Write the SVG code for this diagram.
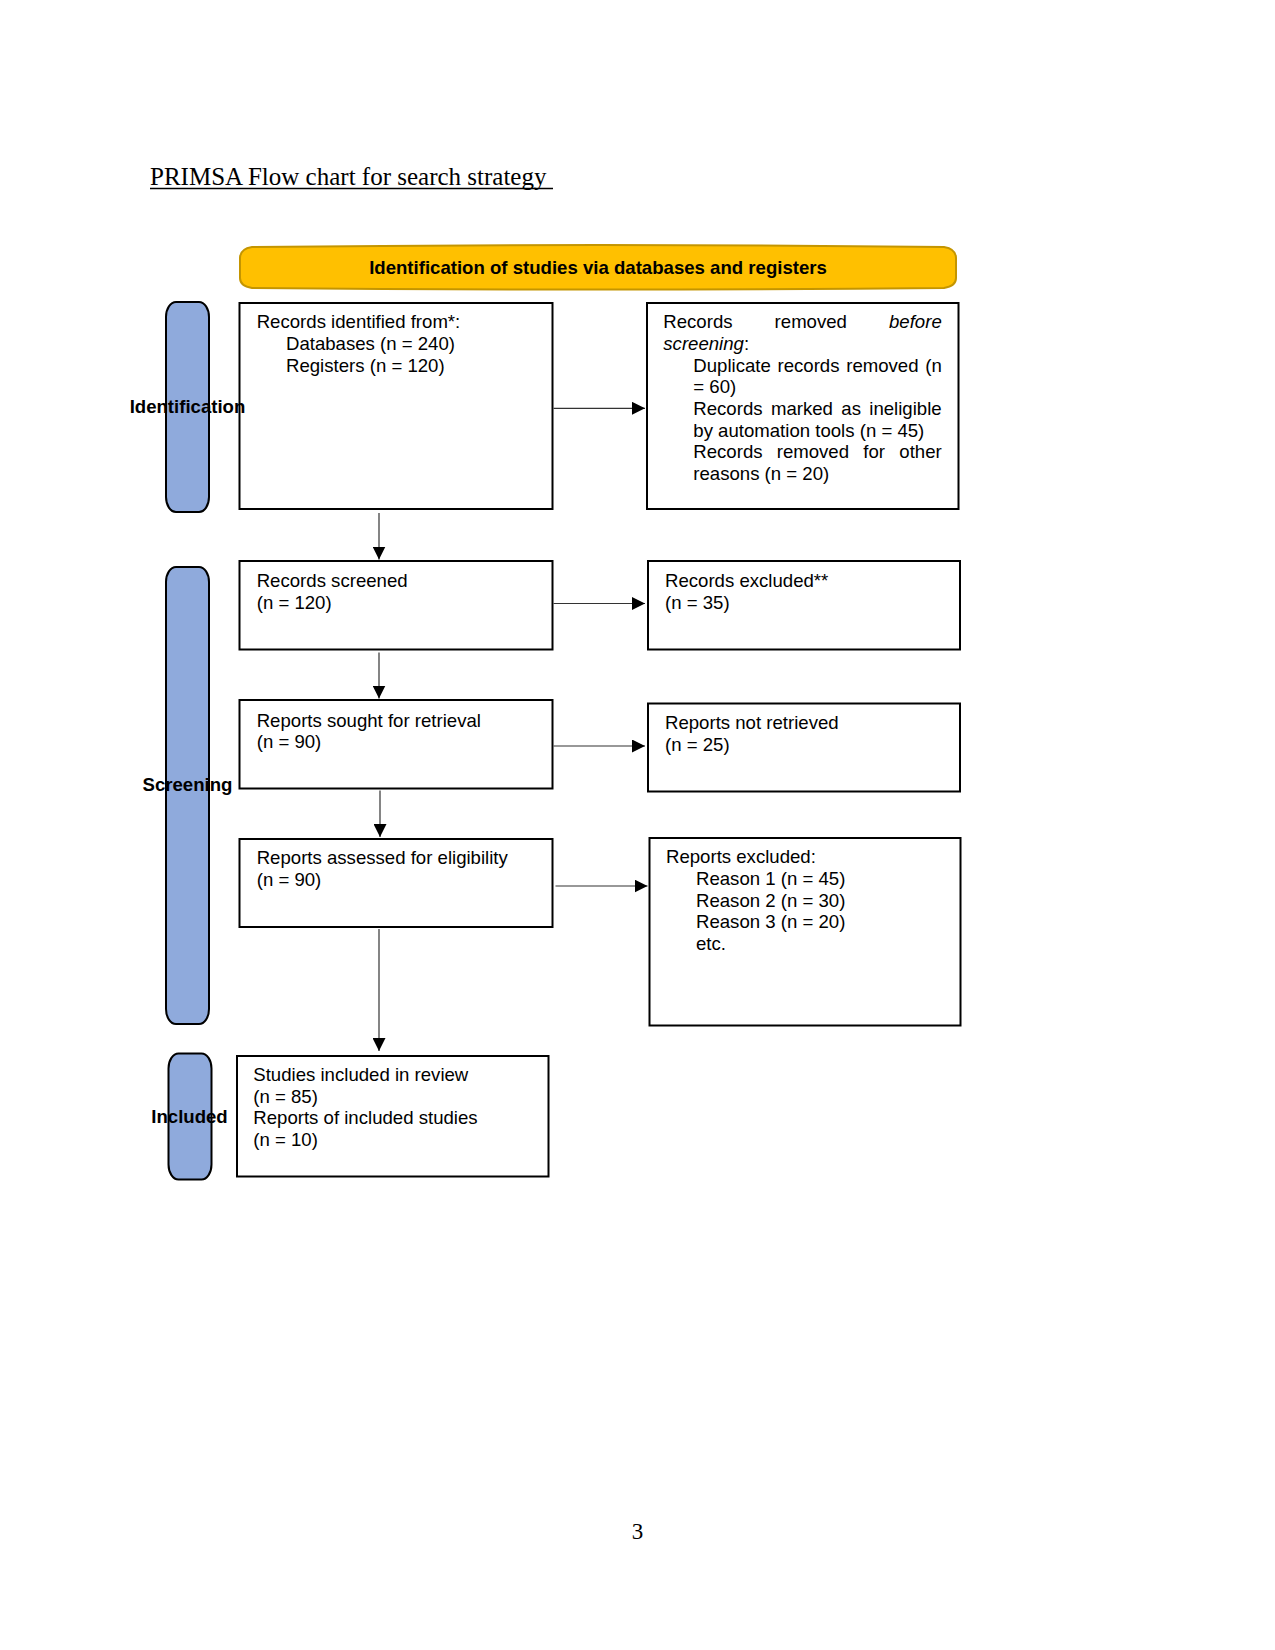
<svg xmlns="http://www.w3.org/2000/svg" width="1275" height="1650" viewBox="0 0 1275 1650">
<defs>
<style>
.t{font-family:"Liberation Sans",Arial,sans-serif;font-size:18.6px;fill:#000}
.b{font-family:"Liberation Sans",Arial,sans-serif;font-size:18.6px;font-weight:bold;fill:#000}
.i{font-style:italic}
.box{fill:#fff;stroke:#000;stroke-width:2}
.pill{fill:#8faadc;stroke:#000;stroke-width:2}
.con{stroke:#333;stroke-width:1.2;fill:none;marker-end:url(#ah)}
</style>
<marker id="ah" markerUnits="userSpaceOnUse" markerWidth="14" markerHeight="13" refX="13" refY="6.5" orient="auto">
<path d="M0,0 L13,6.5 L0,13 Z" fill="#000"/>
</marker>
</defs>
<rect width="1275" height="1650" fill="#fff"/>

<g id="title">
<text x="150" y="185" font-family="'Liberation Serif','Times New Roman',serif" font-size="25" fill="#000">PRIMSA Flow chart for search strategy</text>
<line x1="150" y1="188.5" x2="553" y2="188.5" stroke="#000" stroke-width="1.3"/>
</g>

<g id="banner">
<path d="M252,247 Q598,243 944,247 Q956,249 956,258 L956,278 Q956,286 944,288 Q598,291 252,288 Q240,286 240,278 L240,258 Q240,249 252,247 Z" fill="#ffc000" stroke="#c49500" stroke-width="2"/>
<text x="598" y="274" class="b" text-anchor="middle">Identification of studies via databases and registers</text>
</g>

<g id="records-identified">
<rect x="239.5" y="303" width="313" height="206" class="box"/>
<text class="t" x="256.7" y="327.7">Records identified from*:</text>
<text class="t" x="286" y="350">Databases (n = 240)</text>
<text class="t" x="286" y="371.7">Registers (n = 120)</text>
</g>

<g id="records-removed">
<rect x="647" y="303" width="311.5" height="206" class="box"/>
<text class="t" y="327.7"><tspan x="663.3">Records</tspan><tspan x="774.6">removed</tspan><tspan x="889" class="i">before</tspan></text>
<text class="t" y="350" x="663.3"><tspan class="i">screening</tspan>:</text>
<text class="t" y="371.7"><tspan x="693.3">Duplicate</tspan><tspan x="777.5">records</tspan><tspan x="846.2">removed</tspan><tspan x="925.3">(n</tspan></text>
<text class="t" y="393.3" x="693.3">= 60)</text>
<text class="t" y="415"><tspan x="693.3">Records</tspan><tspan x="770.9">marked</tspan><tspan x="841.3">as</tspan><tspan x="869.3">ineligible</tspan></text>
<text class="t" y="436.7" x="693.3">by automation tools (n = 45)</text>
<text class="t" y="458.3"><tspan x="693.3">Records</tspan><tspan x="776.7">removed</tspan><tspan x="863.3">for</tspan><tspan x="899.3">other</tspan></text>
<text class="t" y="480" x="693.3">reasons (n = 20)</text>
</g>

<g id="records-screened">
<rect x="239.5" y="561" width="313" height="88.5" class="box"/>
<text class="t" x="256.7" y="587.3">Records screened</text>
<text class="t" x="256.7" y="608.7">(n = 120)</text>
</g>

<g id="records-excluded">
<rect x="648" y="561" width="312" height="88.5" class="box"/>
<text class="t" x="665" y="586.7">Records excluded**</text>
<text class="t" x="665" y="608.7">(n = 35)</text>
</g>

<g id="reports-sought">
<rect x="239.5" y="700" width="313" height="88.5" class="box"/>
<text class="t" x="256.7" y="726.7">Reports sought for retrieval</text>
<text class="t" x="256.7" y="748.3">(n = 90)</text>
</g>

<g id="reports-not-retrieved">
<rect x="648" y="703.5" width="312" height="88" class="box"/>
<text class="t" x="665" y="729">Reports not retrieved</text>
<text class="t" x="665" y="750.7">(n = 25)</text>
</g>

<g id="reports-assessed">
<rect x="239.5" y="839" width="313" height="88" class="box"/>
<text class="t" x="256.7" y="864">Reports assessed for eligibility</text>
<text class="t" x="256.7" y="885.7">(n = 90)</text>
</g>

<g id="reports-excluded">
<rect x="649.5" y="838" width="311" height="187.5" class="box"/>
<text class="t" x="666" y="863.3">Reports excluded:</text>
<text class="t" x="696" y="885">Reason 1 (n = 45)</text>
<text class="t" x="696" y="906.7">Reason 2 (n = 30)</text>
<text class="t" x="696" y="928.3">Reason 3 (n = 20)</text>
<text class="t" x="696" y="950">etc.</text>
</g>

<g id="studies-included">
<rect x="237" y="1056" width="311.5" height="120.5" class="box"/>
<text class="t" x="253.3" y="1081">Studies included in review</text>
<text class="t" x="253.3" y="1102.7">(n = 85)</text>
<text class="t" x="253.3" y="1124.3">Reports of included studies</text>
<text class="t" x="253.3" y="1146">(n = 10)</text>
</g>

<g id="phase-identification">
<rect x="166" y="302" width="43" height="210" rx="10" ry="15" class="pill"/>
<text x="187.5" y="413" class="b" text-anchor="middle">Identification</text>
</g>
<g id="phase-screening">
<rect x="166" y="567" width="43" height="457" rx="10" ry="15" class="pill"/>
<text x="187.5" y="791" class="b" text-anchor="middle">Screening</text>
</g>
<g id="phase-included">
<rect x="168.5" y="1053.5" width="43" height="126" rx="10" ry="15" class="pill"/>
<text x="189.5" y="1123" class="b" text-anchor="middle">Included</text>
</g>

<g id="connectors">
<line x1="553.5" y1="408.3" x2="645" y2="408.3" class="con"/>
<line x1="379" y1="513" x2="379" y2="559.5" class="con"/>
<line x1="553.5" y1="603.5" x2="645" y2="603.5" class="con"/>
<line x1="379" y1="652.5" x2="379" y2="698.5" class="con"/>
<line x1="553.5" y1="746" x2="645" y2="746" class="con"/>
<line x1="380" y1="790.5" x2="380" y2="837" class="con"/>
<line x1="555.5" y1="886" x2="647.5" y2="886" class="con"/>
<line x1="379" y1="929" x2="379" y2="1051" class="con"/>
</g>

<g id="page-number">
<text x="637.5" y="1539" text-anchor="middle" font-family="'Liberation Serif','Times New Roman',serif" font-size="23" fill="#000">3</text>
</g>
</svg>
